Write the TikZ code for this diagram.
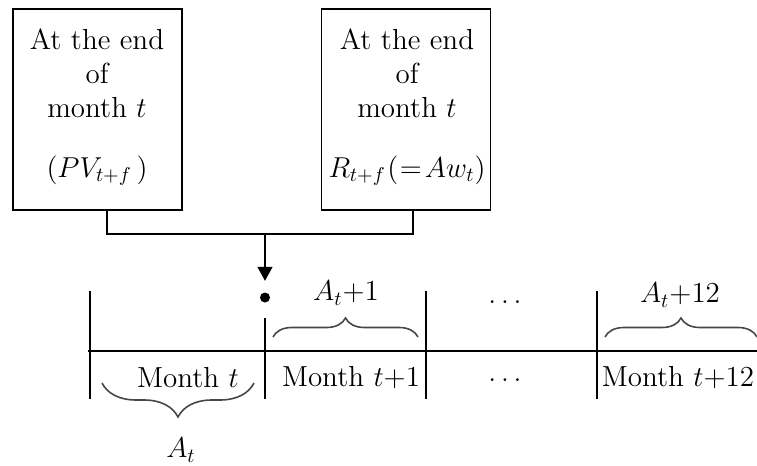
\documentclass[tikz,border=0pt]{standalone}
\usetikzlibrary{arrows.meta,decorations.pathreplacing,calc}
\begin{document}
\begin{tikzpicture}[x=0.5pt,y=-0.5pt,
  line width=0.7pt,
  every node/.style={font=\fontsize{14.5}{17}\selectfont},
  boxnode/.style={draw,minimum width=84.5pt,minimum height=100.5pt,inner sep=0pt},
  boxtext/.style={align=center,inner sep=0pt},
  lbl/.style={inner sep=0pt},
  tick/.style={line width=0.7pt},
  bracecol/.style={draw=black!72,line width=0.8pt},
  arr/.style={-{Triangle[width=7.5pt,length=7pt]}}
]
\useasboundingbox (0,0) rectangle (757,466);
% boxes
\node[boxnode] (lb) at (97.5,109.5) {};
\node[boxnode] (rb) at (406,109.5) {};
\node[boxtext] (lt) at (97,107) {At the end\\of\\month $t$\\[13pt]$(PV_{t+f}\,)$};
\node[boxtext] (rt) at (407,107) {At the end\\of\\month $t$\\[13pt]$R_{t+f}\mkern1mu(\mkern1mu{=}\mkern2mu Aw_t)$};
% connectors
\coordinate (lc) at ($(lb.south)+(9.5,0)$);
\coordinate (rc) at ($(rb.south)+(7,0)$);
\coordinate (junc) at (265,234);
\node[circle,fill=black,inner sep=0pt,minimum size=5pt] (dot) at (265,297.5) {};
\draw (lc) |- (junc) -| (rc);
\draw[arr] (junc) -- ($(dot.north)+(0,-11)$);
% timeline
\coordinate (tl0) at (88,351);
\coordinate (tl1) at (757,351);
\draw (tl0) -- (tl1);
\draw[tick] (90,291) -- (90,399);
\draw[tick] (265,318) -- (265,399);
\draw[tick] (426,291) -- (426,399);
\draw[tick] (597,291) -- (597,399);
% labels
\node[lbl] (m0) at (188,378) {Month $t$};
\node[lbl] (m1) at (351,378) {Month $t$+1};
\node[lbl] (md) at (505,380) {$\ldots$};
\node[lbl] (mu) at (505,302) {$\ldots$};
\node[lbl] (m12) at (678,378) {Month $t$+12};
% braces
\coordinate (b0a) at (254,383);
\coordinate (b0b) at (102,383);
\draw[bracecol,decorate,decoration={brace,amplitude=17pt}] (b0a) -- (b0b);
\node[lbl] (a0) at (181,450) {$A_t$};
\coordinate (b1a) at (273,337);
\coordinate (b1b) at (418,337);
\draw[bracecol,decorate,decoration={brace,amplitude=9.5pt}] (b1a) -- (b1b);
\node[lbl] (a1) at (346,293) {$A_t$+1};
\coordinate (b2a) at (605,337);
\coordinate (b2b) at (757,337);
\draw[bracecol,decorate,decoration={brace,amplitude=9.5pt}] (b2a) -- (b2b);
\node[lbl] (a12) at (680,295) {$A_t$+12};
\end{tikzpicture}
\end{document}
